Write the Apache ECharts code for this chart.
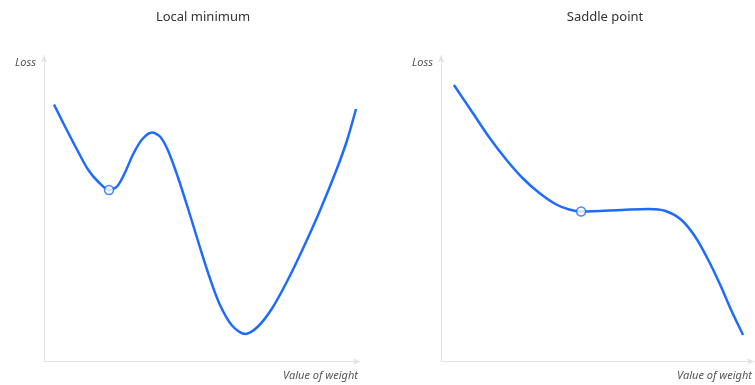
<!DOCTYPE html>
<html>
<head>
<meta charset="utf-8">
<script src="https://cdn.jsdelivr.net/npm/echarts@6/dist/echarts.min.js"></script>
<style>html,body{margin:0;padding:0;background:#fff}#c{width:755px;height:385px}</style>
</head>
<body>
<div id="c"></div>
<script>
// Titles and axis names
const chartTitles = ['Local minimum', 'Saddle point'];
const xAxisName = 'Value of weight';
const yAxisName = 'Loss';

// Left chart: local minimum curve (value of weight, loss)
const localMinCurve = [
  [10, 257], [21, 235], [34, 210], [44, 192], [54, 180], [65, 171.5], [73, 175],
  [81, 189], [89, 207], [98, 222], [108, 229], [116, 225], [124, 211], [134, 184],
  [144, 153], [156, 114], [166, 83], [176, 56.5], [188, 36], [201, 27.5], [214, 35],
  [228, 53], [243, 80], [259, 113], [276, 151], [293, 193], [303, 221], [312, 252.5]
];
const localMinPoint = [[65, 171.5]];

// Right chart: saddle point curve
const saddleCurve = [
  [13, 276.5], [32, 248.5], [49, 223.5], [66, 201.5], [82, 183.5], [99, 168.5],
  [116, 157], [129, 152], [141, 150], [182, 151.5], [209, 152.5], [226, 150.5],
  [242, 141.5], [256, 124.5], [269, 101.5], [282, 74.5], [292, 51.5], [304, 26.5]
];
const saddlePoint = [[141, 150]];

const xMax = [316, 315];
const yMax = 306;

const blue = '#1f6bff';
const fontFam = '"Noto Sans", "Open Sans", sans-serif';

function xAxisCfg(i) {
  return {
    type: 'value', gridIndex: i, min: 0, max: xMax[i],
    name: xAxisName, nameLocation: 'end', nameGap: 0,
    nameTextStyle: { align: 'right', verticalAlign: 'top', padding: [9, 2, 0, 0],
      fontStyle: 'italic', fontSize: 11, color: '#555', fontFamily: fontFam },
    axisLine: { show: true, symbol: ['none', 'arrow'], symbolSize: [5, 7],
      lineStyle: { color: '#e3e3e3', width: 1 } },
    axisTick: { show: false }, axisLabel: { show: false }, splitLine: { show: false }
  };
}
function yAxisCfg(i) {
  return {
    type: 'value', gridIndex: i, min: 0, max: yMax,
    name: yAxisName, nameLocation: 'end', nameGap: 0,
    nameTextStyle: { align: 'right', verticalAlign: 'top', padding: [2, 8, 0, 0],
      fontStyle: 'italic', fontSize: 11, color: '#555', fontFamily: fontFam },
    axisLine: { show: true, symbol: ['none', 'arrow'], symbolSize: [5, 7],
      lineStyle: { color: '#e3e3e3', width: 1 } },
    axisTick: { show: false }, axisLabel: { show: false }, splitLine: { show: false }
  };
}

const chart = echarts.init(document.getElementById('c'), null, { renderer: 'canvas' });
chart.setOption({
  animation: false,
  backgroundColor: '#fff',
  title: [
    { text: chartTitles[0], left: 198, top: 6, textAlign: 'center',
      textStyle: { fontSize: 13, fontWeight: 'normal', color: '#333', fontFamily: fontFam } },
    { text: chartTitles[1], left: 600, top: 6, textAlign: 'center',
      textStyle: { fontSize: 13, fontWeight: 'normal', color: '#333', fontFamily: fontFam } }
  ],
  grid: [
    { left: 44, top: 55.5, width: 316, height: 306 },
    { left: 441, top: 55.5, width: 315, height: 306 }
  ],
  xAxis: [xAxisCfg(0), xAxisCfg(1)],
  yAxis: [yAxisCfg(0), yAxisCfg(1)],
  series: [
    { type: 'line', xAxisIndex: 0, yAxisIndex: 0, data: localMinCurve, smooth: 0.3,
      showSymbol: false, lineStyle: { color: blue, width: 2.5 } },
    { type: 'scatter', xAxisIndex: 0, yAxisIndex: 0, data: localMinPoint, symbolSize: 9,
      itemStyle: { color: '#fff', borderColor: blue, borderWidth: 1.5 }, z: 5 },
    { type: 'line', xAxisIndex: 1, yAxisIndex: 1, data: saddleCurve, smooth: 0.3,
      showSymbol: false, lineStyle: { color: blue, width: 2.5 } },
    { type: 'scatter', xAxisIndex: 1, yAxisIndex: 1, data: saddlePoint, symbolSize: 9,
      itemStyle: { color: '#fff', borderColor: blue, borderWidth: 1.5 }, z: 5 }
  ]
});
</script>
</body>
</html>
